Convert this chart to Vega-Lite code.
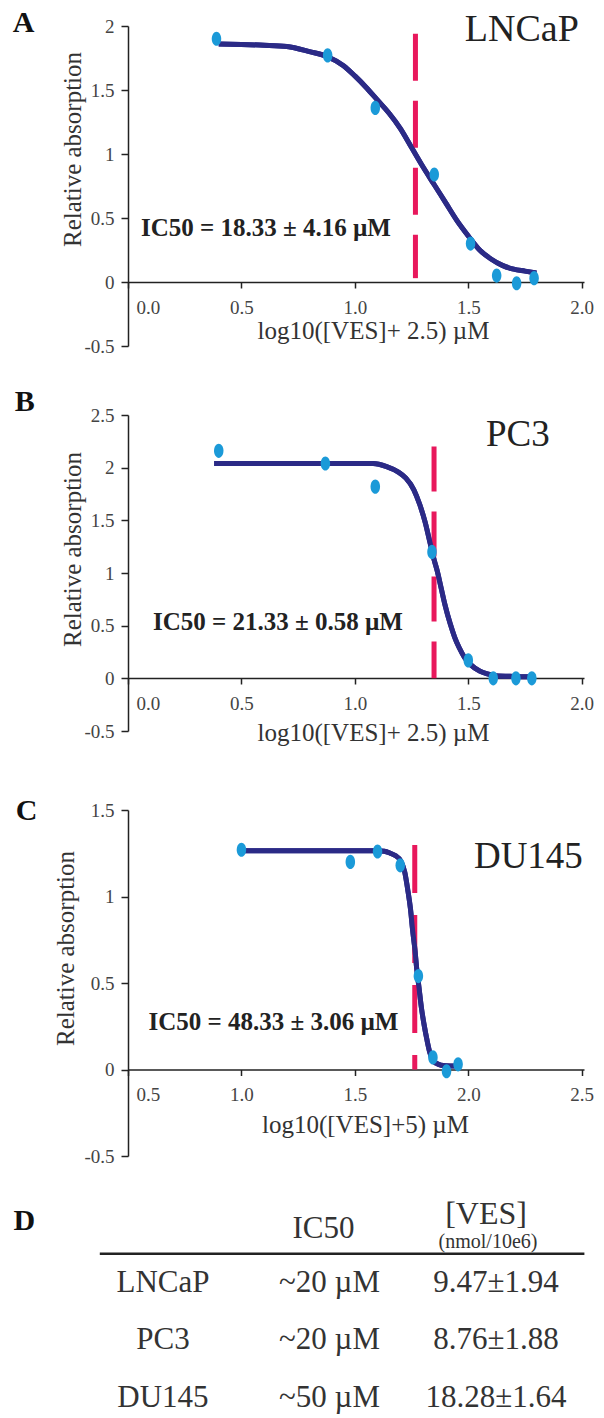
{
  "$schema": "https://vega.github.io/schema/vega-lite/v6.json",
  "padding": {"left": 12, "top": 8, "right": 0, "bottom": 0},
  "config": {
    "font": "Liberation Serif",
    "view": {"stroke": null},
    "axis": {
      "grid": false,
      "labelFont": "Liberation Serif", "labelFontSize": 19, "labelColor": "#444",
      "titleFont": "Liberation Serif", "titleFontSize": 25, "titleFontWeight": "normal", "titleColor": "#333",
      "domainColor": "#222", "domainWidth": 1.5, "tickColor": "#222", "tickWidth": 1.5
    },
    "axisX": {"tickSize": 6, "labelPadding": 10, "labelFlush": 1, "labelFlushOffset": -8, "titleBaseline": "alphabetic", "titleAlign": "center"},
    "axisY": {"tickSize": 7, "labelPadding": 7, "titleBaseline": "alphabetic", "titleAlign": "center", "titleAngle": -90}
  },
  "datasets": {
    "pointsA": [
      {"x": 0.39, "y": 1.90}, {"x": 0.88, "y": 1.77}, {"x": 1.09, "y": 1.36}, {"x": 1.35, "y": 0.84},
      {"x": 1.51, "y": 0.30}, {"x": 1.625, "y": 0.05}, {"x": 1.713, "y": -0.01}, {"x": 1.79, "y": 0.03}
    ],
    "curveA": [
      {"x": 0.40, "y": 1.86}, {"x": 0.50, "y": 1.855}, {"x": 0.60, "y": 1.85}, {"x": 0.70, "y": 1.84},
      {"x": 0.80, "y": 1.80}, {"x": 0.88, "y": 1.76}, {"x": 0.95, "y": 1.69}, {"x": 1.00, "y": 1.61},
      {"x": 1.05, "y": 1.52}, {"x": 1.10, "y": 1.42}, {"x": 1.15, "y": 1.32}, {"x": 1.20, "y": 1.20},
      {"x": 1.25, "y": 1.05}, {"x": 1.30, "y": 0.90}, {"x": 1.35, "y": 0.76}, {"x": 1.40, "y": 0.62},
      {"x": 1.45, "y": 0.48}, {"x": 1.50, "y": 0.36}, {"x": 1.55, "y": 0.25}, {"x": 1.60, "y": 0.18},
      {"x": 1.65, "y": 0.13}, {"x": 1.70, "y": 0.10}, {"x": 1.75, "y": 0.085}, {"x": 1.80, "y": 0.07}
    ],
    "pointsB": [
      {"x": 0.40, "y": 2.16}, {"x": 0.87, "y": 2.04}, {"x": 1.09, "y": 1.82}, {"x": 1.34, "y": 1.20},
      {"x": 1.50, "y": 0.17}, {"x": 1.61, "y": 0.0}, {"x": 1.71, "y": 0.0}, {"x": 1.78, "y": 0.0}
    ],
    "curveB": [
      {"x": 0.38, "y": 2.04}, {"x": 0.60, "y": 2.04}, {"x": 0.80, "y": 2.04}, {"x": 1.00, "y": 2.04},
      {"x": 1.08, "y": 2.04}, {"x": 1.14, "y": 2.01}, {"x": 1.19, "y": 1.96}, {"x": 1.225, "y": 1.90},
      {"x": 1.26, "y": 1.79}, {"x": 1.286, "y": 1.65}, {"x": 1.31, "y": 1.48}, {"x": 1.33, "y": 1.30},
      {"x": 1.35, "y": 1.12}, {"x": 1.363, "y": 1.02}, {"x": 1.38, "y": 0.86}, {"x": 1.397, "y": 0.70},
      {"x": 1.42, "y": 0.52}, {"x": 1.44, "y": 0.39}, {"x": 1.46, "y": 0.29}, {"x": 1.483, "y": 0.20},
      {"x": 1.51, "y": 0.13}, {"x": 1.55, "y": 0.07}, {"x": 1.58, "y": 0.045}, {"x": 1.62, "y": 0.025},
      {"x": 1.70, "y": 0.018}, {"x": 1.78, "y": 0.015}
    ],
    "pointsC": [
      {"x": 1.00, "y": 1.27}, {"x": 1.48, "y": 1.20}, {"x": 1.60, "y": 1.26}, {"x": 1.70, "y": 1.18},
      {"x": 1.78, "y": 0.54}, {"x": 1.844, "y": 0.07}, {"x": 1.904, "y": -0.01}, {"x": 1.955, "y": 0.03}
    ],
    "curveC": [
      {"x": 1.00, "y": 1.265}, {"x": 1.20, "y": 1.265}, {"x": 1.40, "y": 1.265}, {"x": 1.60, "y": 1.265},
      {"x": 1.63, "y": 1.262}, {"x": 1.656, "y": 1.25}, {"x": 1.68, "y": 1.235}, {"x": 1.70, "y": 1.21},
      {"x": 1.72, "y": 1.14}, {"x": 1.733, "y": 1.04}, {"x": 1.745, "y": 0.93}, {"x": 1.755, "y": 0.80},
      {"x": 1.765, "y": 0.69}, {"x": 1.772, "y": 0.59}, {"x": 1.783, "y": 0.47}, {"x": 1.793, "y": 0.36},
      {"x": 1.805, "y": 0.26}, {"x": 1.818, "y": 0.17}, {"x": 1.83, "y": 0.10}, {"x": 1.844, "y": 0.054},
      {"x": 1.86, "y": 0.035}, {"x": 1.88, "y": 0.025}, {"x": 1.92, "y": 0.02}, {"x": 1.955, "y": 0.02}
    ],
    "table": [
      {"line": "LNCaP", "ic50": "~20 µM", "ves": "9.47±1.94"},
      {"line": "PC3", "ic50": "~20 µM", "ves": "8.76±1.88"},
      {"line": "DU145", "ic50": "~50 µM", "ves": "18.28±1.64"}
    ]
  },
  "vconcat": [
    {
      "spacing": 31,
      "vconcat": [
        {
          "width": 456, "height": 320,
          "layer": [
            {"data": {"name": "curveA"}, "mark": {"type": "line", "color": "#2b2a86", "strokeWidth": 5, "interpolate": "monotone"},
              "encoding": {
                "x": {"field": "x", "type": "quantitative", "scale": {"domain": [0, 2.01], "nice": false, "zero": false},
                  "axis": {"values": [0, 0.5, 1, 1.5, 2], "format": ".1f", "offset": -64, "title": "log10([VES]+ 2.5) µM", "titleX": 245, "titleY": 56}},
                "y": {"field": "y", "type": "quantitative", "scale": {"domain": [-0.5, 2], "nice": false, "zero": false},
                  "axis": {"values": [-0.5, 0, 0.5, 1, 1.5, 2], "labelExpr": "replace(format(datum.value, '~g'), '\u2212', '-')", "title": "Relative absorption", "titleX": -48, "titleY": 123}}}},
            {"data": {"values": [{}]}, "mark": {"type": "rule", "color": "#e8185c", "strokeWidth": 5, "strokeDash": [47, 20]},
              "encoding": {
                "x": {"datum": 1.267, "type": "quantitative"},
                "y": {"datum": 1.94, "type": "quantitative"},
                "y2": {"datum": 0.03}}},
            {"data": {"name": "curveA"}, "mark": {"type": "line", "color": "#2b2a86", "strokeWidth": 5, "interpolate": "monotone"},
              "encoding": {"x": {"field": "x", "type": "quantitative"}, "y": {"field": "y", "type": "quantitative"}}},
            {"data": {"name": "pointsA"}, "mark": {"type": "point", "filled": true, "opacity": 1, "color": "#1b9ad8", "size": 200,
              "shape": "M0.67,0C0.67,0.55,0.37,1,0,1C-0.37,1,-0.67,0.55,-0.67,0C-0.67,-0.55,-0.37,-1,0,-1C0.37,-1,0.67,-0.55,0.67,0Z"},
              "encoding": {"x": {"field": "x", "type": "quantitative"}, "y": {"field": "y", "type": "quantitative"}}},
            {"data": {"values": [{}]}, "mark": {"type": "text", "text": "A", "fontSize": 30, "fontWeight": "bold", "align": "left", "baseline": "alphabetic", "color": "#111"},
              "encoding": {"x": {"datum": -0.508, "type": "quantitative"}, "y": {"datum": 1.95, "type": "quantitative"}}},
            {"data": {"values": [{}]}, "mark": {"type": "text", "text": "LNCaP", "fontSize": 38, "align": "right", "baseline": "alphabetic", "color": "#222"},
              "encoding": {"x": {"datum": 1.987, "type": "quantitative"}, "y": {"datum": 1.88, "type": "quantitative"}}},
            {"data": {"values": [{}]}, "mark": {"type": "text", "text": "IC50 = 18.33 ± 4.16 µM", "fontSize": 25, "fontWeight": "bold", "align": "left", "baseline": "alphabetic", "color": "#222"},
              "encoding": {"x": {"datum": 0.057, "type": "quantitative"}, "y": {"datum": 0.36, "type": "quantitative"}}}
          ]
        },
        {
          "width": 456, "height": 316,
          "layer": [
            {"data": {"name": "curveB"}, "mark": {"type": "line", "color": "#2b2a86", "strokeWidth": 5, "interpolate": "monotone"},
              "encoding": {
                "x": {"field": "x", "type": "quantitative", "scale": {"domain": [0, 2.01], "nice": false, "zero": false},
                  "axis": {"values": [0, 0.5, 1, 1.5, 2], "format": ".1f", "offset": -53, "title": "log10([VES]+ 2.5) µM", "titleX": 245, "titleY": 62}},
                "y": {"field": "y", "type": "quantitative", "scale": {"domain": [-0.5, 2.5], "nice": false, "zero": false},
                  "axis": {"values": [-0.5, 0, 0.5, 1, 1.5, 2, 2.5], "labelExpr": "replace(format(datum.value, '~g'), '\u2212', '-')", "title": "Relative absorption", "titleX": -48, "titleY": 134}}}},
            {"data": {"values": [{}]}, "mark": {"type": "rule", "color": "#e8185c", "strokeWidth": 5, "strokeDash": [45, 20]},
              "encoding": {
                "x": {"datum": 1.349, "type": "quantitative"},
                "y": {"datum": 2.2, "type": "quantitative"},
                "y2": {"datum": 0.0}}},
            {"data": {"name": "curveB"}, "mark": {"type": "line", "color": "#2b2a86", "strokeWidth": 5, "interpolate": "monotone"},
              "encoding": {"x": {"field": "x", "type": "quantitative"}, "y": {"field": "y", "type": "quantitative"}}},
            {"data": {"name": "pointsB"}, "mark": {"type": "point", "filled": true, "opacity": 1, "color": "#1b9ad8", "size": 200,
              "shape": "M0.67,0C0.67,0.55,0.37,1,0,1C-0.37,1,-0.67,0.55,-0.67,0C-0.67,-0.55,-0.37,-1,0,-1C0.37,-1,0.67,-0.55,0.67,0Z"},
              "encoding": {"x": {"field": "x", "type": "quantitative"}, "y": {"field": "y", "type": "quantitative"}}},
            {"data": {"values": [{}]}, "mark": {"type": "text", "text": "B", "fontSize": 30, "fontWeight": "bold", "align": "left", "baseline": "alphabetic", "color": "#111"},
              "encoding": {"x": {"datum": -0.499, "type": "quantitative"}, "y": {"datum": 2.535, "type": "quantitative"}}},
            {"data": {"values": [{}]}, "mark": {"type": "text", "text": "PC3", "fontSize": 37, "align": "right", "baseline": "alphabetic", "color": "#222"},
              "encoding": {"x": {"datum": 1.859, "type": "quantitative"}, "y": {"datum": 2.21, "type": "quantitative"}}},
            {"data": {"values": [{}]}, "mark": {"type": "text", "text": "IC50 = 21.33 ± 0.58 µM", "fontSize": 25, "fontWeight": "bold", "align": "left", "baseline": "alphabetic", "color": "#222"},
              "encoding": {"x": {"datum": 0.11, "type": "quantitative"}, "y": {"datum": 0.46, "type": "quantitative"}}}
          ]
        }
      ]
    },
    {
      "spacing": 30,
      "vconcat": [
        {
          "width": 456, "height": 346,
          "layer": [
            {"data": {"name": "curveC"}, "mark": {"type": "line", "color": "#2b2a86", "strokeWidth": 5, "interpolate": "monotone"},
              "encoding": {
                "x": {"field": "x", "type": "quantitative", "scale": {"domain": [0.5, 2.51], "nice": false, "zero": false},
                  "axis": {"values": [0.5, 1, 1.5, 2, 2.5], "format": ".1f", "offset": -86.5, "title": "log10([VES]+5) µM", "titleX": 237, "titleY": 63}},
                "y": {"field": "y", "type": "quantitative", "scale": {"domain": [-0.5, 1.5], "nice": false, "zero": false},
                  "axis": {"values": [-0.5, 0, 0.5, 1, 1.5], "labelExpr": "replace(format(datum.value, '~g'), '\u2212', '-')", "title": "Relative absorption", "titleX": -55, "titleY": 138}}}},
            {"data": {"values": [{}]}, "mark": {"type": "rule", "color": "#e8185c", "strokeWidth": 5, "strokeDash": [48, 22]},
              "encoding": {
                "x": {"datum": 1.764, "type": "quantitative"},
                "y": {"datum": 1.297, "type": "quantitative"},
                "y2": {"datum": 0.0}}},
            {"data": {"name": "curveC"}, "mark": {"type": "line", "color": "#2b2a86", "strokeWidth": 5, "interpolate": "monotone"},
              "encoding": {"x": {"field": "x", "type": "quantitative"}, "y": {"field": "y", "type": "quantitative"}}},
            {"data": {"name": "pointsC"}, "mark": {"type": "point", "filled": true, "opacity": 1, "color": "#1b9ad8", "size": 200,
              "shape": "M0.67,0C0.67,0.55,0.37,1,0,1C-0.37,1,-0.67,0.55,-0.67,0C-0.67,-0.55,-0.37,-1,0,-1C0.37,-1,0.67,-0.55,0.67,0Z"},
              "encoding": {"x": {"field": "x", "type": "quantitative"}, "y": {"field": "y", "type": "quantitative"}}},
            {"data": {"values": [{}]}, "mark": {"type": "text", "text": "C", "fontSize": 30, "fontWeight": "bold", "align": "left", "baseline": "alphabetic", "color": "#111"},
              "encoding": {"x": {"datum": 0.005, "type": "quantitative"}, "y": {"datum": 1.442, "type": "quantitative"}}},
            {"data": {"values": [{}]}, "mark": {"type": "text", "text": "DU145", "fontSize": 37, "align": "right", "baseline": "alphabetic", "color": "#222"},
              "encoding": {"x": {"datum": 2.505, "type": "quantitative"}, "y": {"datum": 1.165, "type": "quantitative"}}},
            {"data": {"values": [{}]}, "mark": {"type": "text", "text": "IC50 = 48.33 ± 3.06 µM", "fontSize": 25, "fontWeight": "bold", "align": "left", "baseline": "alphabetic", "color": "#222"},
              "encoding": {"x": {"datum": 0.59, "type": "quantitative"}, "y": {"datum": 0.228, "type": "quantitative"}}}
          ]
        },
        {
          "width": 403, "height": 231,
          "resolve": {"scale": {"x": "independent"}},
          "layer": [
            {"data": {"values": [{}]}, "mark": {"type": "rule", "color": "#222", "strokeWidth": 2.5},
              "encoding": {
                "x": {"datum": -0.14, "type": "quantitative", "scale": {"domain": [0, 2], "nice": false, "zero": false}, "axis": null},
                "x2": {"datum": 2.265},
                "y": {"datum": "LNCaP", "type": "nominal", "bandPosition": 0, "scale": {"type": "band", "domain": ["head", "LNCaP", "PC3", "DU145"], "paddingInner": 0, "paddingOuter": 0}, "axis": null}
              }},
            {"data": {"values": [{}]}, "mark": {"type": "text", "text": "D", "fontSize": 30, "fontWeight": "bold", "align": "left", "baseline": "middle", "dy": -4, "color": "#111"},
              "encoding": {
                "x": {"datum": -0.568, "type": "quantitative", "scale": {"domain": [0, 2], "nice": false, "zero": false}, "axis": null},
                "y": {"datum": "head", "type": "nominal", "axis": null}
              }},
            {"data": {"name": "table"},
              "transform": [{"fold": ["line", "ic50", "ves"], "as": ["col", "txt"]}],
              "mark": {"type": "text", "fontSize": 31, "align": "center", "baseline": "middle", "color": "#333"},
              "encoding": {
                "x": {"field": "col", "type": "nominal", "scale": {"type": "point", "domain": ["line", "ic50", "ves"], "padding": 0.21}, "axis": null},
                "y": {"field": "line", "type": "nominal", "axis": null},
                "text": {"field": "txt"}
              }},
            {"data": {"values": [{}]}, "mark": {"type": "text", "text": "IC50", "fontSize": 31, "align": "center", "baseline": "middle", "dy": 4, "dx": -6, "color": "#333"},
              "encoding": {
                "x": {"datum": "ic50", "type": "nominal", "scale": {"type": "point", "domain": ["line", "ic50", "ves"], "padding": 0.21}, "axis": null},
                "y": {"datum": "head", "type": "nominal", "axis": null}
              }},
            {"data": {"values": [{}]}, "mark": {"type": "text", "text": "[VES]", "fontSize": 32, "align": "center", "baseline": "middle", "dy": -11, "dx": -10, "color": "#333"},
              "encoding": {
                "x": {"datum": "ves", "type": "nominal", "scale": {"type": "point", "domain": ["line", "ic50", "ves"], "padding": 0.21}, "axis": null},
                "y": {"datum": "head", "type": "nominal", "axis": null}
              }},
            {"data": {"values": [{}]}, "mark": {"type": "text", "text": "(nmol/10e6)", "fontSize": 20, "align": "center", "baseline": "middle", "dy": 17, "dx": -8, "color": "#333"},
              "encoding": {
                "x": {"datum": "ves", "type": "nominal", "scale": {"type": "point", "domain": ["line", "ic50", "ves"], "padding": 0.21}, "axis": null},
                "y": {"datum": "head", "type": "nominal", "axis": null}
              }}
          ]
        }
      ]
    }
  ],
  "spacing": 51
}
